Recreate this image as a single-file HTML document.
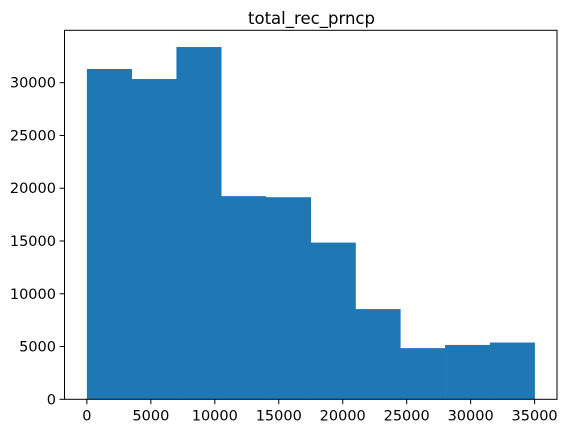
<!DOCTYPE html>
<html><head><meta charset="utf-8"><style>
body{margin:0;background:#fff;}
svg{display:block;font-family:"DejaVu Sans","Liberation Sans",sans-serif;}
</style></head><body>
<svg id="chart" width="570" height="433">
<text x="311.5" y="24" font-size="16.7" text-anchor="middle" textLength="127" lengthAdjust="spacingAndGlyphs" fill="#000">total_rec_prncp</text>
<g id="bars"></g>
<g id="axes"></g>
</svg>
<script>
const binEdges = [0,3500,7000,10500,14000,17500,21000,24500,28000,31500,35000];
const counts = [31300,30350,33380,19250,19150,14850,8550,4850,5150,5380];
const xTicks = [0,5000,10000,15000,20000,25000,30000,35000];
const yTicks = [0,5000,10000,15000,20000,25000,30000];

const L=64.5,R=557,T=30.3,B=399.3;
const xmin=-1750,xmax=36750,ymax=34965;
const sx=v=>L+(v-xmin)/(xmax-xmin)*(R-L);
const sy=v=>B-v/ymax*(B-T);
const NS="http://www.w3.org/2000/svg";
const bars=document.getElementById('bars'), axes=document.getElementById('axes');
function mk(tag,attrs,parent){const e=document.createElementNS(NS,tag);for(const k in attrs)e.setAttribute(k,attrs[k]);parent.appendChild(e);return e;}
counts.forEach((c,i)=>{
  const r=mk('rect',{x:sx(binEdges[i]),y:sy(c),width:sx(binEdges[i+1])-sx(binEdges[i])+0.3,height:sy(0)-sy(c),fill:'#1f77b4'},bars);
  
  
});
const frame=mk('rect',{x:L,y:T,width:R-L,height:B-T,fill:'none',stroke:'#000','stroke-width':1},axes);


xTicks.forEach(v=>{
  const x=sx(v);
  mk('line',{x1:x,x2:x,y1:B,y2:B+4.9,stroke:'#000','stroke-width':1},axes);
  const t=mk('text',{x:x,y:B+21,'font-size':14.5,'text-anchor':'middle',fill:'#000'},axes);
  t.textContent=v;
  
  
});
yTicks.forEach(v=>{
  const y=sy(v);
  mk('line',{x1:L-4.9,x2:L,y1:y,y2:y,stroke:'#000','stroke-width':1},axes);
  const t=mk('text',{x:L-8.5,y:y+5,'font-size':14.5,'text-anchor':'end',fill:'#000'},axes);
  t.textContent=v;
  
  
});
</script>
</body></html>
